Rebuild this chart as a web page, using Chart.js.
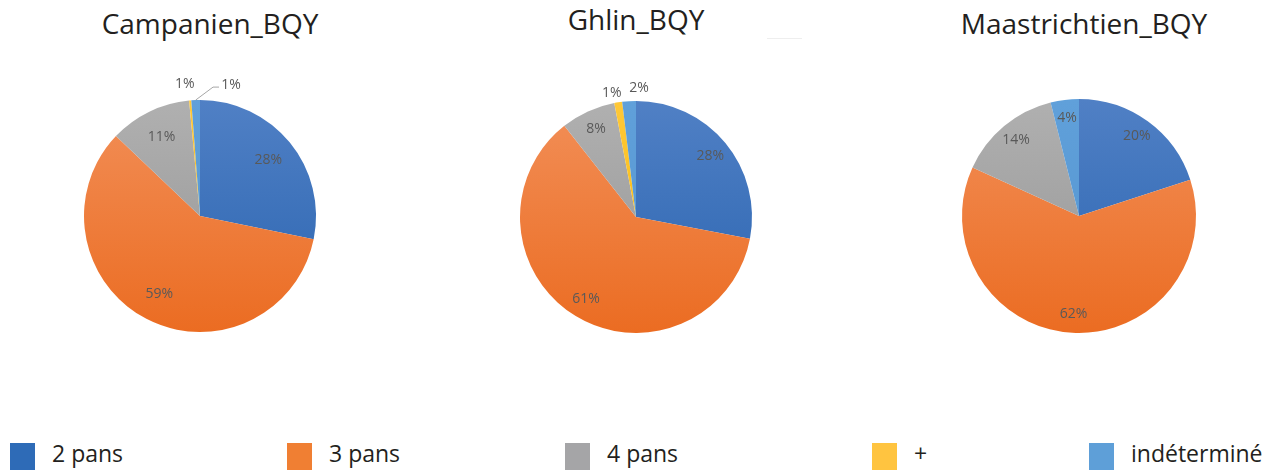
<!DOCTYPE html>
<html>
<head>
<meta charset="utf-8">
<script src="https://cdn.jsdelivr.net/npm/chart.js@4/dist/chart.umd.min.js"></script>
<style>
  body { margin: 0; background: #fff; width: 1284px; height: 470px; overflow: hidden; position: relative; font-family: "Open Sans", sans-serif; }
  .title { position: absolute; font-size: 28px; line-height: 28px; color: #231f20; white-space: nowrap; transform: translateX(-50%); }
  .pie { position: absolute; }
  .sq { position: absolute; top: 443px; width: 25px; height: 27px; }
  .lg { position: absolute; top: 442px; font-size: 23px; line-height: 23px; color: #231f20; white-space: nowrap; }
</style>
</head>
<body>

<div class="title" style="left:210px; top:9px;">Campanien_BQY</div>
<div class="title" style="left:636px; top:5px;">Ghlin_BQY</div>
<div class="title" style="left:1084px; top:9px;">Maastrichtien_BQY</div>
<div style="position:absolute; left:767px; top:38px; width:35px; height:1px; background:#eeeeee;"></div>

<canvas id="chart1" class="pie" width="300" height="300" style="left:50px; top:66px;"></canvas>
<canvas id="chart2" class="pie" width="300" height="300" style="left:486px; top:67px;"></canvas>
<canvas id="chart3" class="pie" width="300" height="300" style="left:929px; top:66px;"></canvas>

<div id="legend"></div>

<script>
// DATA
var categories = ['2 pans', '3 pans', '4 pans', '+', 'indéterminé'];
var campanien = [28.2, 58.9, 11.4, 0.3, 1.2];
var ghlin = [28, 61.4, 7.6, 1.1, 1.9];
var maastrichtien = [20, 61.8, 14.3, 0, 3.9];

// colours: flat (legend) and top/bottom of the slice gradient
var flatColors = ['#2e6bb7', '#f07f33', '#a5a5a7', '#ffc440', '#5e9fd8'];
var topColors = ['#5080c5', '#f28f58', '#b0b0b0', '#ffc838', '#60a0da'];
var bottomColors = ['#2a64b0', '#eb6c22', '#959595', '#f5b800', '#5394cf'];

var legendLeft = [10, 287, 565, 872, 1089];

window.onload = function() {
    buildLegend();
    createPie('chart1', campanien, 34, 0.76, [[0, 0], [0, 0], [0, 0], [-4, 0], [36, 1]]);
    createPie('chart2', ghlin, 34, 0.83, [[0, 0], [0, 0], [0, 0], [-4, 6], [11, 3]]);
    createPie('chart3', maastrichtien, 33, 0.84, [[0, 0], [0, 0], [0, 0], [0, 0], [0, 0]]);
};

function buildLegend(){
    var legend = document.getElementById('legend');
    categories.forEach((cat, i) => {
        var sq = document.createElement('div');
        sq.className = 'sq';
        sq.style.left = legendLeft[i] + 'px';
        sq.style.background = flatColors[i];
        legend.appendChild(sq);

        var lg = document.createElement('div');
        lg.className = 'lg';
        lg.style.left = (legendLeft[i] + 42) + 'px';
        lg.textContent = cat;
        legend.appendChild(lg);
    });
}

function sliceColor(context){
    var chart = context.chart;
    var area = chart.chartArea;
    var i = context.dataIndex;
    if (!area) return flatColors[i];
    var g = chart.ctx.createLinearGradient(0, area.top, 0, area.bottom);
    g.addColorStop(0, topColors[i]);
    g.addColorStop(1, bottomColors[i]);
    return g;
}

// percent labels, inside the big slices, outside the small ones
var pieLabels = {
    id: 'pieLabels',
    afterDatasetsDraw(chart, args, opts){
        var ctx = chart.ctx;
        var meta = chart.getDatasetMeta(0);
        var values = chart.data.datasets[0].data;
        var total = values.reduce((a, b) => a + b, 0);
        ctx.save();
        ctx.font = '14px "Open Sans"';
        ctx.fillStyle = '#595959';
        ctx.textAlign = 'center';
        ctx.textBaseline = 'middle';
        meta.data.forEach((arc, i) => {
            var v = values[i];
            if (!v) return;
            var p = arc.getProps(['x', 'y', 'startAngle', 'endAngle', 'outerRadius'], true);
            var mid = (p.startAngle + p.endAngle) / 2;
            var pct = Math.max(1, Math.round(v / total * 100));
            var tx, ty;
            if (pct >= 3) {
                tx = p.x + Math.cos(mid) * p.outerRadius * opts.factor;
                ty = p.y + Math.sin(mid) * p.outerRadius * opts.factor;
            } else {
                var s = opts.shift[i];
                tx = p.x + Math.cos(mid) * (p.outerRadius + 16) + s[0];
                ty = p.y + Math.sin(mid) * (p.outerRadius + 16) + s[1];
                if (Math.abs(s[0]) > 20) {
                    ctx.strokeStyle = '#a6a6a6';
                    ctx.lineWidth = 1;
                    ctx.beginPath();
                    ctx.moveTo(p.x + Math.cos(mid) * p.outerRadius, p.y + Math.sin(mid) * p.outerRadius);
                    ctx.lineTo(tx - 18, ty + 2);
                    ctx.lineTo(tx - 12, ty + 2);
                    ctx.stroke();
                }
            }
            ctx.fillText(pct + '%', tx, ty);
        });
        ctx.restore();
    }
};

function createPie(id, values, pad, factor, shift){
    var chart = document.getElementById(id).getContext('2d');
    return new Chart(chart, {
        type: 'pie',
        data: {
            labels: categories,
            datasets: [{
                data: values,
                backgroundColor: sliceColor,
                borderWidth: 0
            }]
        },
        options: {
            responsive: false,
            animation: false,
            layout: {
                padding: pad
            },
            plugins: {
                legend: { display: false },
                tooltip: { enabled: false },
                pieLabels: { factor: factor, shift: shift }
            }
        },
        plugins: [pieLabels]
    });
}
</script>
</body>
</html>
